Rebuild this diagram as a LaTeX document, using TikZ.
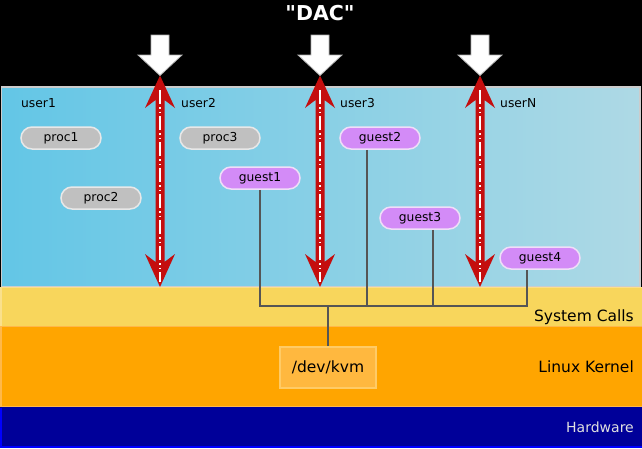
\documentclass[tikz,border=0pt]{standalone}
\usepackage{fontspec}
\setmainfont{DejaVu Sans}
\newfontfamily\titlefont[Ligatures=TeXOff]{DejaVu Sans}
\begin{document}
\begin{tikzpicture}[x=1pt,y=-1pt,
  pill/.style={rectangle,rounded corners=11pt,minimum width=80pt,minimum height=22pt,inner sep=0pt,line width=1.5pt,font=\fontsize{12.3}{14}\selectfont},
  procbox/.style={pill,fill=procgrey,draw=procedge},
  guestbox/.style={pill,fill=guestpurple,draw=guestedge},
  userlbl/.style={anchor=west,inner sep=0pt,font=\fontsize{12.3}{14}\selectfont},
  layerlbl/.style={anchor=east,inner sep=0pt,font=\fontsize{15.5}{18}\selectfont},
  conn/.style={draw=conngrey,line width=1.6pt},
  whitedash/.style={draw=white,line width=1.6pt,dash pattern=on 14pt off 3pt on 1.5pt off 3pt on 1.5pt off 3pt},
  dacarrow/.style={fill=white,draw=gray!60,line width=0.8pt}
]
\definecolor{procgrey}{HTML}{C0C0C0}
\definecolor{procedge}{HTML}{E8E8E8}
\definecolor{guestpurple}{HTML}{D38BF7}
\definecolor{guestedge}{HTML}{F0DEF8}
\definecolor{conngrey}{HTML}{555555}
\definecolor{arrowred}{HTML}{C40E0E}
\definecolor{userleft}{HTML}{63C6E6}
\definecolor{userright}{HTML}{AED9E5}
\definecolor{syscall}{HTML}{F8D65C}
\definecolor{syscalledge}{HTML}{FAE08C}
\definecolor{kernel}{HTML}{FFA500}
\definecolor{kerneledge}{HTML}{FFB84A}
\definecolor{hw}{HTML}{000099}
\definecolor{hwedge}{HTML}{0000FF}
\definecolor{kvmfill}{HTML}{FFB83F}
\definecolor{kvmedge}{HTML}{FFCB66}

% background
\fill[black] (0,0) rectangle (642,448);
\useasboundingbox (0,0) rectangle (642,448);

% layers
\shade[left color=userleft,right color=userright] (1.5,87) rectangle (640,286.5);
\draw[draw=gray!40,line width=1.5pt] (1.5,87) rectangle (640,286.5);
\fill[syscall] (0,287.5) rectangle (642,326);
\draw[syscalledge,line width=1.5pt] (0.75,287.5) -- (0.75,326);
\draw[syscalledge,line width=1pt] (0,287.5) -- (642,287.5);
\fill[kernel] (0,326) rectangle (642,407);
\draw[kerneledge,line width=1.5pt] (0,326.5) -- (642,326.5);
\draw[kerneledge,line width=1.5pt] (0.75,326) -- (0.75,407);
\draw[kerneledge,line width=1pt] (0,406.5) -- (642,406.5);
\fill[hw] (0,407) rectangle (642,447);
\draw[hwedge,line width=1.5pt] (0.75,407.5) -- (0.75,447) -- (642,447);

% title
\node[text=white,font=\titlefont\fontsize{20.5}{24}\selectfont\bfseries] (title) at (320,13) {"DAC"};

% layer labels
\node[layerlbl] (sc) at (634,317) {System Calls};
\node[layerlbl] (lk) at (634,367) {Linux Kernel};
\node[layerlbl,text=white!88!black,font=\fontsize{14}{17}\selectfont] (hwl) at (634,427) {Hardware};

% user labels
\node[userlbl] (u1) at (21,103) {user1};
\node[userlbl] (u2) at (181,103) {user2};
\node[userlbl] (u3) at (340,103) {user3};
\node[userlbl] (uN) at (500,103) {userN};

% DAC arrows
\foreach \x in {160,320,480}{
  \draw[dacarrow] (\x-9,35) -- (\x+9,35) -- (\x+9,55) -- (\x+22,55) -- (\x,75.5) -- (\x-22,55) -- (\x-9,55) -- cycle;
  \fill[arrowred] (\x-4.5,100) -- (\x-15,108) -- (\x,75.5) -- (\x+15,108) -- (\x+4.5,100) -- (\x+4.5,262) -- (\x+15,254) -- (\x,287) -- (\x-15,254) -- (\x-4.5,262) -- cycle;
  \draw[whitedash] (\x,90) -- (\x,282);
}

% processes
\node[procbox] (p1) at (61,138) {proc1};
\node[procbox] (p2) at (101,198) {proc2};
\node[procbox] (p3) at (220,138) {proc3};
\node[guestbox] (g1) at (260,178) {guest1};
\node[guestbox] (g2) at (380,138) {guest2};
\node[guestbox] (g3) at (420,218) {guest3};
\node[guestbox] (g4) at (540,258) {guest4};

% kvm
\node[rectangle,fill=kvmfill,draw=kvmedge,line width=1.5pt,minimum width=96pt,minimum height=41pt,font=\fontsize{15.5}{18}\selectfont] (kvm) at (328,367.5) {/dev/kvm};

% connectors
\coordinate (b1) at (260,306);
\coordinate (b2) at (367,306);
\coordinate (b3) at (433,306);
\coordinate (b4) at (527,306);
\coordinate (bk) at (328,306);
\draw[conn] (g1.south) -- (b1) -- (b4) -- ([xshift=-13pt]g4.south);
\draw[conn] ([xshift=-13pt]g2.south) -- (b2);
\draw[conn] ([xshift=13pt]g3.south) -- (b3);
\draw[conn] (bk) -- (kvm.north);
\end{tikzpicture}
\end{document}
